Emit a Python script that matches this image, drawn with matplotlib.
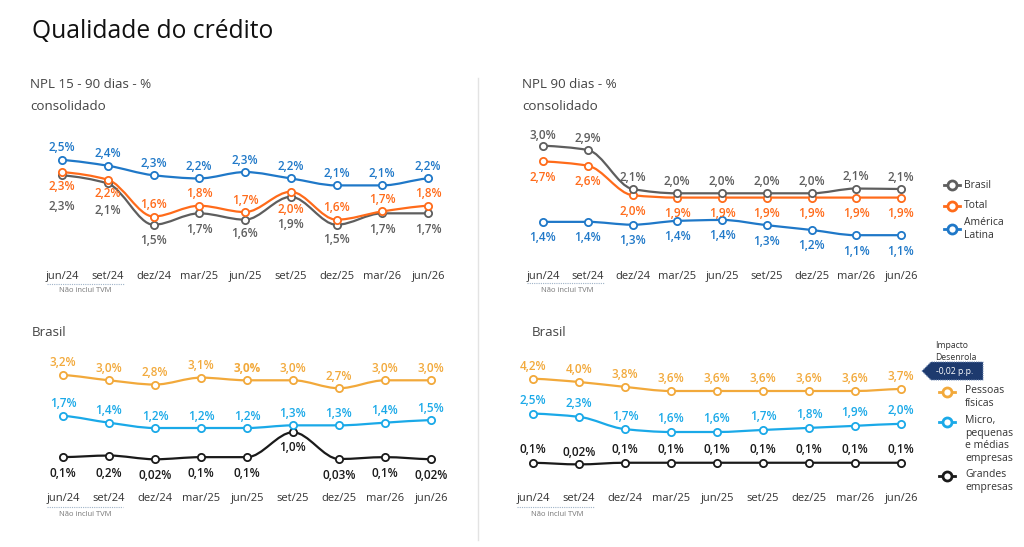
import matplotlib
matplotlib.use("Agg")
import matplotlib.pyplot as plt
from matplotlib.path import Path
from matplotlib.patches import PathPatch, Polygon
from matplotlib.lines import Line2D
import numpy as np

plt.rcParams['font.family'] = ['Open Sans', 'DejaVu Sans']

W, H = 1024, 547

# ---------------- data ----------------
periods = ["jun/24", "set/24", "dez/24", "mar/25", "jun/25", "set/25", "dez/25", "mar/26", "jun/26"]

# NPL 15-90 dias consolidado (estimated from the line positions; labels round to one decimal)
npl15_latam = [2.5, 2.41, 2.26, 2.21, 2.31, 2.21, 2.1, 2.1, 2.21]
npl15_total = [2.31, 2.19, 1.61, 1.78, 1.68, 2.0, 1.56, 1.69, 1.78]
npl15_brasil = [2.26, 2.13, 1.48, 1.66, 1.56, 1.92, 1.48, 1.66, 1.66]

# NPL 90 dias consolidado
npl90_brasil = [3.0, 2.91, 2.09, 2.0, 2.0, 2.0, 2.0, 2.1, 2.09]
npl90_total = [2.67, 2.58, 1.96, 1.91, 1.91, 1.91, 1.91, 1.91, 1.91]
npl90_latam = [1.4, 1.4, 1.34, 1.42, 1.44, 1.33, 1.23, 1.12, 1.12]

# Brasil NPL 15-90
br15_pf = [3.2, 3.0, 2.84, 3.1, 3.0, 3.0, 2.7, 3.0, 3.0]
br15_pme = [1.66, 1.4, 1.2, 1.2, 1.2, 1.3, 1.3, 1.4, 1.5]
br15_ge = [0.1, 0.16, 0.02, 0.1, 0.1, 1.04, 0.03, 0.1, 0.02]

# Brasil NPL 90
br90_pf = [4.2, 4.04, 3.8, 3.6, 3.6, 3.6, 3.6, 3.6, 3.7]
br90_pme = [2.5, 2.34, 1.74, 1.6, 1.6, 1.7, 1.8, 1.9, 2.0]
br90_ge = [0.1, 0.02, 0.1, 0.1, 0.1, 0.1, 0.1, 0.1, 0.1]

# ---------------- style ----------------
C_LATAM = '#1f78c8'
C_TOTAL = '#ff6b1a'
C_BRASIL = '#5e5e5e'
C_PF = '#f2a93b'
C_PME = '#1aa9e8'
C_GE = '#1a1a1a'
C_NAVY = '#1d3a6e'
C_TXT = '#333333'

fig = plt.figure(figsize=(W / 100, H / 100), dpi=100)
fig.patch.set_facecolor('white')


def fx(x):
    return x / W


def fy(y):
    return 1 - y / H


def fmt(v):
    s = f"{v:.2f}" if v < 0.095 else f"{v:.1f}"
    return s.replace('.', ',') + '%'


def smooth_path(x, y):
    x = np.asarray(x, float)
    y = np.asarray(y, float)
    h = np.diff(x)
    d = np.diff(y) / h
    n = len(x)
    m = np.zeros(n)
    for k in range(1, n - 1):
        if d[k - 1] * d[k] > 0:
            m[k] = 2.0 / (1.0 / d[k - 1] + 1.0 / d[k])
        else:
            m[k] = 0.0
    m[0] = d[0] * 0.5
    m[-1] = d[-1] * 0.5
    verts = [(x[0], y[0])]
    codes = [Path.MOVETO]
    for k in range(n - 1):
        verts += [(x[k] + h[k] / 3, y[k] + m[k] * h[k] / 3),
                  (x[k + 1] - h[k] / 3, y[k + 1] - m[k + 1] * h[k] / 3),
                  (x[k + 1], y[k + 1])]
        codes += [Path.CURVE4] * 3
    return Path(verts, codes)


def add_panel(px0, px8, ytop, ybot, v_ref, p_ref, ppv):
    step = (px8 - px0) / 8
    left = px0 - 0.5 * step
    right = px8 + 0.5 * step
    ax = fig.add_axes([fx(left), fy(ybot), (right - left) / W, (ybot - ytop) / H])
    ax.set_xlim(-0.5, 8.5)
    ymax = v_ref + (p_ref - ytop) / ppv
    ymin = v_ref - (ybot - p_ref) / ppv
    ax.set_ylim(ymin, ymax)
    for s in ax.spines.values():
        s.set_visible(False)
    ax.set_yticks([])
    ax.set_xticks(range(len(periods)))
    ax.set_xticklabels(periods, fontsize=8, color=C_TXT)
    ax.tick_params(axis='x', length=0, pad=2)
    ax.patch.set_alpha(0)
    return ax


def draw_series(ax, vals, color, offsets, weights=None, lw=1.6):
    xs = np.arange(len(vals))
    ax.add_patch(PathPatch(smooth_path(xs, vals), fill=False, edgecolor=color,
                           lw=lw, capstyle='round', joinstyle='round', zorder=2))
    ax.plot(xs, vals, linestyle='none', marker='o', markersize=5.2,
            markerfacecolor='white', markeredgecolor=color, markeredgewidth=1.3, zorder=3)
    for i, v in enumerate(vals):
        w = 'semibold' if weights is None else weights[i]
        ax.annotate(fmt(v), (i, v), xytext=(0, offsets[i]), textcoords='offset pixels',
                    ha='center', va='center', fontsize=8.5, color=color,
                    fontweight=w, zorder=4)


def tvm_note(xc, yline, x0, x1, ytext):
    fig.add_artist(Line2D([fx(x0), fx(x1)], [fy(yline), fy(yline)], transform=fig.transFigure,
                          color='#9fb3c8', lw=0.8, linestyle=(0, (1, 1))))
    fig.text(fx(xc), fy(ytext), "Não inclui TVM", fontsize=5.5, color='#777777',
             ha='center', va='center')


# ---------------- titles ----------------
fig.text(fx(32), fy(32), "Qualidade do crédito", fontsize=17.7, color='#111111',
         ha='left', va='center')
TS = 9.6
fig.text(fx(30), fy(85), "NPL 15 - 90 dias - %", fontsize=TS, color='#444444', va='center')
fig.text(fx(30), fy(106), "consolidado", fontsize=TS, color='#444444', va='center')
fig.text(fx(522), fy(85), "NPL 90 dias - %", fontsize=TS, color='#444444', va='center')
fig.text(fx(522), fy(106), "consolidado", fontsize=TS, color='#444444', va='center')
fig.text(fx(32), fy(332), "Brasil", fontsize=TS, color='#444444', va='center')
fig.text(fx(532), fy(332), "Brasil", fontsize=TS, color='#444444', va='center')

# divider
fig.add_artist(Line2D([fx(478), fx(478)], [fy(78), fy(540)], transform=fig.transFigure,
                      color='#e3e3e3', lw=1))

# ---------------- panel 1: NPL 15-90 consolidado ----------------
ax1 = add_panel(62, 428, 130, 268, 2.5, 160, 63.5)
draw_series(ax1, npl15_brasil, C_BRASIL, [-31, -27, -16, -16, -14, -28, -15, -16, -16])
draw_series(ax1, npl15_total, C_TOTAL, [-14, -14, 12, 12, 12, -18, 12, 12, 12])
draw_series(ax1, npl15_latam, C_LATAM, [12] * 9)
tvm_note(85, 284, 47, 124, 291)

# ---------------- panel 2: NPL 90 consolidado ----------------
ax2 = add_panel(543, 901, 125, 268, 3.0, 145.7, 47.6)
draw_series(ax2, npl90_latam, C_LATAM, [-16] * 9)
draw_series(ax2, npl90_total, C_TOTAL, [-16] * 9)
draw_series(ax2, npl90_brasil, C_BRASIL, [10, 11, 12, 12, 12, 12, 12, 12, 12])
tvm_note(567, 283, 527, 604, 291)

# legend panel 2
leg2 = [("Brasil", C_BRASIL, 185), ("Total", C_TOTAL, 206), ("América\nLatina", C_LATAM, 229)]
for lab, col, yy in leg2:
    fig.add_artist(Line2D([fx(944), fx(960)], [fy(yy), fy(yy)], transform=fig.transFigure,
                          color=col, lw=2))
    fig.add_artist(Line2D([fx(952)], [fy(yy)], transform=fig.transFigure, marker='o',
                          markersize=6.5, markerfacecolor='white', markeredgecolor=col,
                          markeredgewidth=2, linestyle='none'))
    fig.text(fx(964), fy(yy), lab, fontsize=7.5, color=C_TXT, va='center', ha='left',
             linespacing=1.2)

# ---------------- panel 3: Brasil NPL 15-90 ----------------
ax3 = add_panel(63, 431, 350, 490, 3.0, 380.3, 26.5)
draw_series(ax3, br15_ge, C_GE, [-16, -18, -16, -16, -16, -15, -16, -16, -16])
draw_series(ax3, br15_pme, C_PME, [12] * 9)
pf_w = ['semibold'] * 9
pf_w[4] = 'bold'
draw_series(ax3, br15_pf, C_PF, [12] * 9, weights=pf_w)
tvm_note(85, 507, 47, 123, 515)

# ---------------- panel 4: Brasil NPL 90 ----------------
ax4 = add_panel(533, 901, 350, 490, 3.6, 391, 20.5)
draw_series(ax4, br90_ge, C_GE, [13, 12, 13, 13, 13, 13, 13, 13, 13])
draw_series(ax4, br90_pme, C_PME, [13] * 9)
draw_series(ax4, br90_pf, C_PF, [12] * 9)
tvm_note(557, 507, 517, 594, 515)

# legend panel 4
leg4 = [("Pessoas\nfísicas", C_PF, 392), ("Micro,\npequenas\ne médias\nempresas", C_PME, 422),
        ("Grandes\nempresas", C_GE, 476)]
for lab, col, yy in leg4:
    fig.add_artist(Line2D([fx(939), fx(955)], [fy(yy), fy(yy)], transform=fig.transFigure,
                          color=col, lw=2))
    fig.add_artist(Line2D([fx(947)], [fy(yy)], transform=fig.transFigure, marker='o',
                          markersize=6.5, markerfacecolor='white', markeredgecolor=col,
                          markeredgewidth=2, linestyle='none'))
    fig.text(fx(965), fy(yy - 7), lab, fontsize=7.5, color=C_TXT, va='top', ha='left',
             linespacing=1.2)

# Impacto Desenrola callout
fig.text(fx(935), fy(346), "Impacto", fontsize=6.2, color=C_TXT, va='center', ha='left')
fig.text(fx(935), fy(357), "Desenrola", fontsize=6.2, color=C_TXT, va='center', ha='left')
box = Polygon([(fx(922), fy(371)), (fx(931), fy(362)), (fx(983), fy(362)),
               (fx(983), fy(380)), (fx(931), fy(380))], closed=True,
              transform=fig.transFigure, facecolor=C_NAVY, edgecolor='#6d86b0',
              lw=0.8, linestyle=(0, (1, 1)))
fig.add_artist(box)
fig.text(fx(955), fy(371), "-0,02 p.p.", fontsize=6.2, color='white', va='center', ha='center')

fig.savefig("out.png", dpi=100, facecolor='white')
